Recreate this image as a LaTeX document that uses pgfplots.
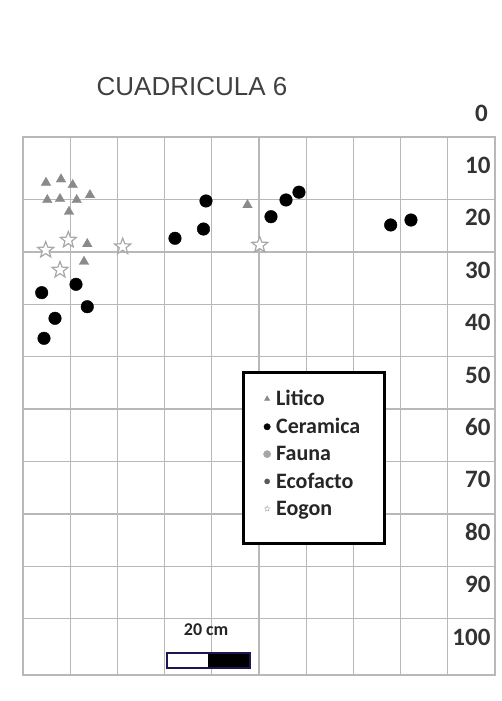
\documentclass[border=0pt]{standalone}
\usepackage{pgfplots}
\pgfplotsset{compat=1.18}
\usepackage{fontspec}
\setmainfont{Carlito}
\newfontfamily\arialf{Liberation Sans}
\usetikzlibrary{plotmarks}
\definecolor{gridc}{HTML}{B8B8B8}
\definecolor{tric}{HTML}{8A8A8A}
\definecolor{starc}{HTML}{A8A8A8}
\definecolor{navy}{HTML}{1C1654}
\pgfdeclareplotmark{ostar}{%
  \pgfpathmoveto{\pgfpointpolar{90}{\pgfplotmarksize}}%
  \pgfpathlineto{\pgfpointpolar{126}{0.42\pgfplotmarksize}}%
  \pgfpathlineto{\pgfpointpolar{162}{\pgfplotmarksize}}%
  \pgfpathlineto{\pgfpointpolar{198}{0.42\pgfplotmarksize}}%
  \pgfpathlineto{\pgfpointpolar{234}{\pgfplotmarksize}}%
  \pgfpathlineto{\pgfpointpolar{270}{0.42\pgfplotmarksize}}%
  \pgfpathlineto{\pgfpointpolar{306}{\pgfplotmarksize}}%
  \pgfpathlineto{\pgfpointpolar{342}{0.42\pgfplotmarksize}}%
  \pgfpathlineto{\pgfpointpolar{18}{\pgfplotmarksize}}%
  \pgfpathlineto{\pgfpointpolar{54}{0.42\pgfplotmarksize}}%
  \pgfpathclose
  \pgfusepathqfillstroke
}
\pgfplotstableread{
x v
0.487 13.30
0.805 12.65
1.053 13.74
0.515 16.60
0.784 16.41
1.138 16.60
1.419 15.65
0.975 18.84
1.362 25.00
1.292 28.38
4.756 17.56
}\litico
\pgfplotstableread{
x v
3.877 16.79
3.824 22.14
3.220 23.91
0.396 34.29
1.123 32.69
1.362 36.97
0.678 39.18
0.445 43.00
5.254 19.79
5.572 16.60
5.847 15.11
7.790 21.37
8.220 20.42
}\ceramica
\pgfplotstableread{
x v
0.481 26.15
0.960 24.24
0.784 29.96
2.112 25.51
5.015 25.19
}\fogon
\begin{document}
\begin{tikzpicture}[x=1pt,y=1pt]
\path[use as bounding box] (0,0) rectangle (502,701);
\node[font=\arialf\fontsize{26}{29}\selectfont, text=black!75] at (192,614) {CUADRICULA 6};
\begin{axis}[
  at={(23pt,26pt)}, anchor=south west, scale only axis,
  width=472pt, height=538pt,
  xmin=0, xmax=10, ymin=4.58, ymax=107.25, y dir=reverse,
  xtick={1,...,9}, xticklabels={}, xmajorgrids,
  ytick={10,20,...,100}, yticklabel pos=right,
  minor ytick={16.5,26.5,...,96.5}, yminorgrids,
  major tick length=0pt, minor tick length=0pt,
  major grid style={gridc, line width=1.1pt},
  minor grid style={gridc, line width=1.5pt},
  axis line style={gridc, line width=1.5pt},
  /pgf/number format/assume math mode=true,
  yticklabel style={anchor=east, xshift=-1pt, font=\bfseries\fontsize{25}{27}\selectfont, text=black!80},
  clip=false,
  legend cell align=left,
  legend image code/.code={\path[draw=none,fill=none] (0pt,-4pt) rectangle (14pt,4pt);\draw[#1] plot coordinates {(7pt,0pt)};},
  legend style={at={(axis cs:5.02,52.7)}, anchor=north west, draw=none, fill=none,
    font=\bfseries\fontsize{22}{24}\selectfont, text=black!85, row sep=9pt, column sep=1pt, inner sep=0pt,
    nodes={inner sep=1pt}},
]
\addplot[only marks, mark=triangle*, mark size=5.5pt, draw=tric, fill=tric, forget plot] table[x=x,y=v] {\litico};
\addplot[only marks, mark=*, mark size=6.3pt, black, forget plot] table[x=x,y=v] {\ceramica};
\addplot[only marks, mark=ostar, mark size=8.5pt, draw=starc, fill=white, line width=1.2pt, forget plot] table[x=x,y=v] {\fogon};
\addlegendimage{only marks, mark=triangle*, mark size=3pt, draw=tric, fill=tric}
\addlegendentry{Litico}
\addlegendimage{only marks, mark=*, mark size=3.2pt, black}
\addlegendentry{Ceramica}
\addlegendimage{only marks, mark=*, mark size=3.6pt, draw=gray!70, fill=gray!70}
\addlegendentry{Fauna}
\addlegendimage{only marks, mark=*, mark size=2.6pt, draw=black!65, fill=black!65}
\addlegendentry{Ecofacto}
\addlegendimage{only marks, mark=ostar, mark size=3pt, draw=starc, fill=white}
\addlegendentry{Eogon}
\node[anchor=east, font=\bfseries\fontsize{25}{27}\selectfont, text=black!80] at (axis cs:9.92,0) {0};
\draw[line width=3pt, black, fill=white] (axis cs:4.661,49.43) rectangle (axis cs:7.669,82.06);
\node[font=\bfseries\fontsize{18}{20}\selectfont, text=black!85] at (axis cs:3.88,98.6) {20 cm};
\fill[white] (axis cs:3.051,103.05) rectangle (axis cs:3.919,105.92);
\fill[black] (axis cs:3.919,103.05) rectangle (axis cs:4.809,105.92);
\draw[navy, line width=1.5pt] (axis cs:3.051,103.05) rectangle (axis cs:4.809,105.92);
\end{axis}
\end{tikzpicture}
\end{document}
